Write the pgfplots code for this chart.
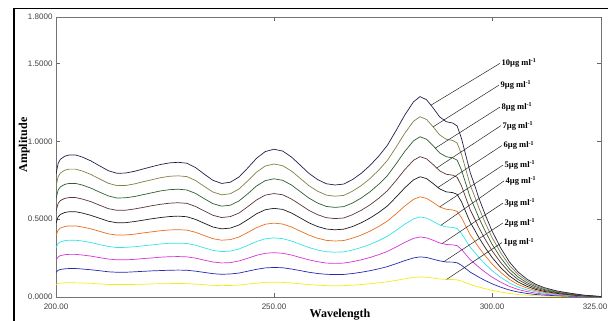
\documentclass[border=0pt]{standalone}
\usepackage{pgfplots}
\usepackage{pgfplotstable}
\pgfplotsset{compat=1.18}
\usepackage{fontspec}
\setmainfont{Liberation Serif}
\newfontfamily\sansf{Liberation Sans}

\definecolor{c1}{RGB}{240,236,20}
\definecolor{c2}{RGB}{40,40,180}
\definecolor{c3}{RGB}{214,50,214}
\definecolor{c4}{RGB}{50,228,228}
\definecolor{c5}{RGB}{232,112,30}
\definecolor{c6}{RGB}{28,28,28}
\definecolor{c7}{RGB}{92,54,54}
\definecolor{c8}{RGB}{46,94,46}
\definecolor{c9}{RGB}{130,128,70}
\definecolor{c10}{RGB}{32,32,72}

% first-derivative style spectra, 1-10 ug/ml
\pgfplotstableread{
w     c1    c2    c3    c4    c5    c6    c7    c8    c9    c10
200.0 0.079 0.158 0.237 0.316 0.395 0.474 0.553 0.632 0.711 0.790
200.5 0.086 0.172 0.258 0.344 0.430 0.516 0.602 0.688 0.774 0.860
201.0 0.089 0.177 0.266 0.354 0.443 0.531 0.620 0.708 0.797 0.885
202.0 0.091 0.181 0.272 0.362 0.453 0.543 0.634 0.724 0.815 0.905
203.0 0.091 0.183 0.274 0.365 0.457 0.548 0.639 0.730 0.822 0.913
204.5 0.091 0.183 0.274 0.365 0.457 0.548 0.639 0.730 0.822 0.913
206.0 0.090 0.180 0.270 0.360 0.450 0.540 0.630 0.720 0.810 0.900
208.0 0.088 0.175 0.263 0.350 0.438 0.525 0.613 0.700 0.788 0.875
210.0 0.084 0.169 0.253 0.337 0.422 0.506 0.590 0.674 0.759 0.843
212.0 0.081 0.162 0.244 0.325 0.406 0.487 0.568 0.650 0.731 0.812
214.0 0.080 0.159 0.239 0.318 0.398 0.477 0.557 0.636 0.716 0.795
216.0 0.080 0.159 0.239 0.319 0.399 0.478 0.558 0.638 0.717 0.797
218.0 0.081 0.162 0.242 0.323 0.404 0.485 0.566 0.646 0.727 0.808
220.0 0.082 0.165 0.247 0.329 0.412 0.494 0.576 0.658 0.741 0.823
222.0 0.084 0.168 0.251 0.335 0.419 0.503 0.587 0.670 0.754 0.838
224.0 0.085 0.170 0.256 0.341 0.426 0.511 0.596 0.682 0.767 0.852
226.0 0.086 0.172 0.259 0.345 0.431 0.517 0.603 0.690 0.776 0.862
228.0 0.087 0.173 0.260 0.346 0.433 0.520 0.606 0.693 0.779 0.866
230.0 0.086 0.172 0.258 0.344 0.430 0.516 0.602 0.688 0.774 0.860
232.0 0.083 0.166 0.250 0.333 0.416 0.499 0.582 0.666 0.749 0.832
234.0 0.079 0.158 0.237 0.316 0.395 0.474 0.553 0.632 0.711 0.790
236.0 0.075 0.150 0.225 0.300 0.375 0.450 0.525 0.600 0.675 0.750
238.0 0.073 0.146 0.219 0.292 0.365 0.438 0.511 0.584 0.657 0.730
240.0 0.074 0.148 0.221 0.295 0.369 0.443 0.517 0.590 0.664 0.738
242.0 0.077 0.154 0.232 0.309 0.386 0.463 0.540 0.618 0.695 0.772
244.0 0.083 0.166 0.249 0.332 0.415 0.498 0.581 0.664 0.747 0.830
246.0 0.089 0.178 0.268 0.357 0.446 0.535 0.624 0.714 0.803 0.892
248.0 0.094 0.187 0.281 0.374 0.468 0.561 0.655 0.748 0.842 0.935
250.0 0.095 0.190 0.285 0.380 0.475 0.570 0.665 0.760 0.855 0.950
252.0 0.094 0.188 0.281 0.375 0.469 0.563 0.657 0.750 0.844 0.938
254.0 0.090 0.180 0.270 0.360 0.450 0.540 0.630 0.720 0.810 0.900
256.0 0.085 0.170 0.254 0.339 0.424 0.509 0.594 0.678 0.763 0.848
258.0 0.080 0.159 0.239 0.318 0.398 0.477 0.557 0.636 0.716 0.795
260.0 0.076 0.151 0.227 0.302 0.378 0.453 0.529 0.604 0.680 0.755
262.0 0.073 0.146 0.218 0.291 0.364 0.437 0.510 0.582 0.655 0.728
264.0 0.072 0.144 0.216 0.288 0.360 0.432 0.504 0.576 0.648 0.720
266.0 0.073 0.145 0.218 0.290 0.363 0.436 0.508 0.581 0.653 0.726
268.0 0.076 0.151 0.227 0.302 0.378 0.453 0.529 0.604 0.680 0.755
270.0 0.080 0.159 0.239 0.318 0.398 0.477 0.557 0.636 0.716 0.795
272.0 0.085 0.169 0.254 0.338 0.423 0.507 0.592 0.676 0.761 0.845
274.0 0.091 0.181 0.272 0.362 0.453 0.543 0.634 0.724 0.815 0.905
276.0 0.098 0.195 0.293 0.390 0.488 0.585 0.683 0.780 0.878 0.975
278.0 0.107 0.214 0.321 0.428 0.535 0.642 0.749 0.856 0.963 1.070
280.0 0.117 0.234 0.351 0.468 0.585 0.702 0.819 0.936 1.053 1.170
282.0 0.126 0.251 0.377 0.502 0.628 0.753 0.879 1.004 1.130 1.255
283.5 0.129 0.258 0.386 0.515 0.644 0.773 0.902 1.030 1.159 1.288
285.0 0.127 0.254 0.380 0.507 0.634 0.761 0.888 1.014 1.141 1.268
286.5 0.122 0.243 0.365 0.486 0.608 0.729 0.851 0.972 1.094 1.215
288.0 0.116 0.232 0.347 0.463 0.579 0.695 0.811 0.926 1.042 1.158
289.5 0.113 0.225 0.338 0.451 0.564 0.676 0.789 0.902 1.014 1.127
291.0 0.112 0.224 0.335 0.447 0.559 0.671 0.783 0.894 1.006 1.118
292.0 0.110 0.220 0.330 0.440 0.550 0.660 0.770 0.880 0.990 1.100
293.0 0.102 0.204 0.306 0.408 0.510 0.612 0.714 0.816 0.918 1.020
294.0 0.091 0.182 0.273 0.364 0.455 0.546 0.637 0.728 0.819 0.910
295.0 0.080 0.160 0.240 0.320 0.400 0.480 0.560 0.640 0.720 0.800
296.0 0.072 0.144 0.216 0.288 0.360 0.432 0.504 0.576 0.648 0.720
297.0 0.064 0.127 0.191 0.254 0.318 0.381 0.445 0.508 0.572 0.635
298.5 0.053 0.105 0.158 0.210 0.263 0.315 0.368 0.420 0.473 0.525
300.0 0.043 0.085 0.128 0.170 0.213 0.255 0.298 0.340 0.383 0.425
302.0 0.032 0.063 0.095 0.126 0.158 0.189 0.221 0.252 0.284 0.315
304.0 0.023 0.045 0.068 0.090 0.113 0.135 0.158 0.180 0.203 0.225
306.0 0.016 0.032 0.048 0.064 0.080 0.096 0.112 0.128 0.144 0.160
308.0 0.012 0.023 0.035 0.046 0.058 0.069 0.081 0.092 0.104 0.115
310.0 0.008 0.016 0.025 0.033 0.041 0.049 0.057 0.066 0.074 0.082
312.0 0.006 0.012 0.018 0.024 0.030 0.036 0.042 0.048 0.054 0.060
315.0 0.004 0.008 0.011 0.015 0.019 0.023 0.027 0.030 0.034 0.038
318.0 0.002 0.005 0.007 0.010 0.012 0.014 0.017 0.019 0.022 0.024
321.0 0.001 0.002 0.004 0.005 0.006 0.007 0.008 0.010 0.011 0.012
325.0 0.000 0.001 0.001 0.001 0.002 0.002 0.002 0.002 0.003 0.003
}\spectra

\begin{document}
\begin{tikzpicture}[x=1pt,y=1pt]
\clip (0,0) rectangle (608,321);
\useasboundingbox (0,0) rectangle (608,321);
% outer frame
\draw[black, line width=1.3pt] (14,-5) -- (14,312.5) -- (615,312.5);
\begin{axis}[
  at={(56pt,24pt)}, anchor=south west,
  scale only axis, width=545pt, height=280pt,
  xmin=200, xmax=325, ymin=0, ymax=1.8,
  xtick={200,250,300}, xticklabels={200.00,250.00,300.00},
  extra x ticks={325}, extra x tick labels={325.00},
  extra x tick style={xticklabel style={xshift=-6pt}},
  ytick={0,0.5,1,1.5,1.8}, yticklabels={0.0000,0.5000,1.0000,1.5000,1.8000},
  tick align=inside, tick pos=both, major tick length=4pt,
  axis line style={draw=black!55, line width=0.7pt},
  every tick/.style={black!60, line width=0.6pt},
  ticklabel style={font=\sansf\fontsize{8}{9}\selectfont, text=black!75},
  xticklabel style={yshift=-3.5pt},
  every axis plot/.append style={line width=0.7pt},
]
\addplot[c1]  table[x=w,y=c1]  {\spectra};
\addplot[c2]  table[x=w,y=c2]  {\spectra};
\addplot[c3]  table[x=w,y=c3]  {\spectra};
\addplot[c4]  table[x=w,y=c4]  {\spectra};
\addplot[c5]  table[x=w,y=c5]  {\spectra};
\addplot[c6]  table[x=w,y=c6]  {\spectra};
\addplot[c7]  table[x=w,y=c7]  {\spectra};
\addplot[c8]  table[x=w,y=c8]  {\spectra};
\addplot[c9]  table[x=w,y=c9]  {\spectra};
\addplot[c10] table[x=w,y=c10] {\spectra};

% concentration labels with leader lines
\foreach \lx/\ly/\ex/\ey/\lab in {
  301.83/1.502/286.0/1.233/10,
  301.60/1.362/286.5/1.094/9,
  301.83/1.221/287.0/0.957/8,
  302.06/1.102/287.3/0.829/7,
  302.29/0.974/287.6/0.704/6,
  302.52/0.848/288.0/0.579/5,
  302.75/0.746/288.3/0.461/4,
  302.52/0.604/288.6/0.344/3,
  302.52/0.476/289.0/0.228/2,
  302.29/0.350/289.6/0.113/1}{
  \edef\tmp{\noexpand\draw[black!85, line width=0.5pt] (axis cs:\lx,\ly) -- (axis cs:\ex,\ey);
    \noexpand\node[anchor=west, inner sep=0pt, xshift=1.5pt, font=\noexpand\bfseries\noexpand\fontsize{8.5}{9}\noexpand\selectfont]
      at (axis cs:\lx,\ly) {\lab µg ml\noexpand\textsuperscript{-1}};}
  \tmp
}
\end{axis}
\node[rotate=90, anchor=base, font=\bfseries\fontsize{12}{13}\selectfont] at (27,176) {Amplitude};
\node[anchor=base, font=\bfseries\fontsize{12}{13}\selectfont] at (340,3.4) {Wavelength};
\end{tikzpicture}
\end{document}
